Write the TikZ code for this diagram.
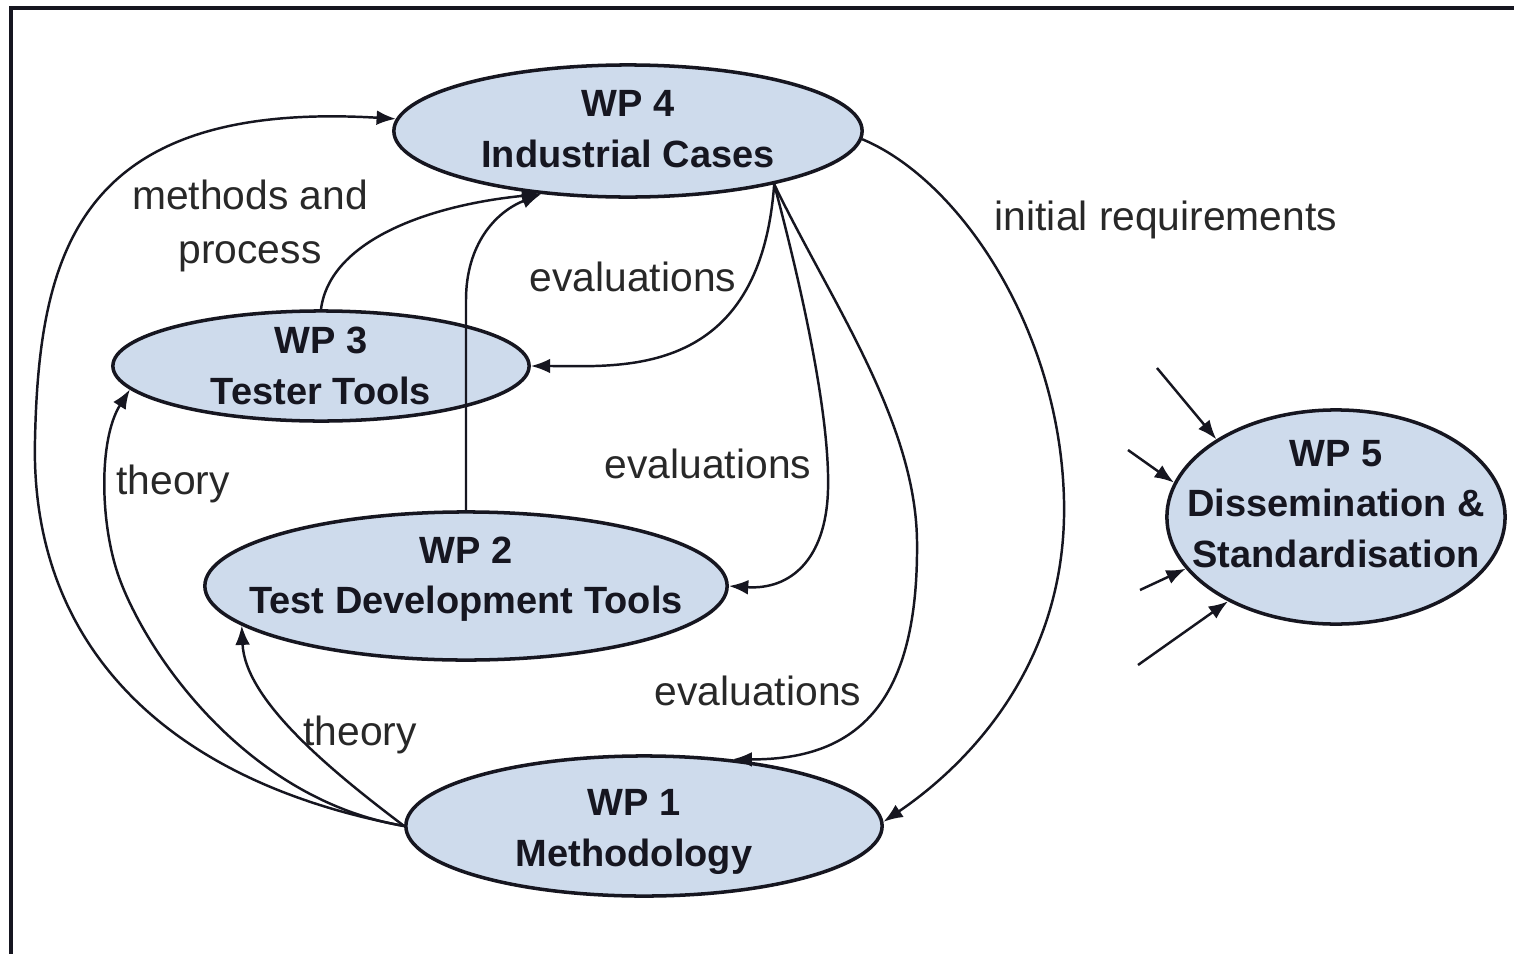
\documentclass[tikz,border=0pt]{standalone}
\usepackage{fontspec}
\setmainfont{Liberation Sans}
\usetikzlibrary{shapes.geometric,arrows.meta}
\definecolor{wpfill}{RGB}{206,219,236}
\definecolor{ink}{RGB}{22,22,32}
\definecolor{labink}{RGB}{40,40,40}
\begin{document}
\begin{tikzpicture}[x=0.01cm,y=-0.01cm,
  wp/.style={ellipse,draw=ink,line width=1pt,fill=wpfill,inner sep=0pt},
  wptext/.style={font=\fontsize{10.8}{14.4}\selectfont\bfseries,align=center,text=ink,inner sep=0pt},
  lab/.style={font=\fontsize{11.6}{15.5}\selectfont,align=center,text=labink,inner sep=0pt},
  conn/.style={draw=ink,line width=0.7pt,-{Latex[length=5.5pt,width=4.2pt]}},
  frame/.style={draw=ink,line width=1.1pt}
]
\useasboundingbox (0,0) rectangle (1514,954);
\fill[white] (0,0) rectangle (1514,954);
\coordinate (fb) at (11,954);
\coordinate (ftl) at (11,8);
\coordinate (ftr) at (1514,8);
\draw[frame] (fb) -- (ftl) -- (ftr);

% work packages
\node[wp,minimum width=4.68cm,minimum height=1.32cm,
  label={[wptext,yshift=0.02cm]center:{WP 4\\Industrial Cases}}] (wp4) at (628,131) {};
\node[wp,minimum width=4.16cm,minimum height=1.10cm,
  label={[wptext]center:{WP 3\\Tester Tools}}] (wp3) at (321,366) {};
\node[wp,minimum width=5.22cm,minimum height=1.48cm,
  label={[wptext,yshift=0.07cm]center:{WP 2\\Test Development Tools}}] (wp2) at (466,586) {};
\node[wp,minimum width=4.76cm,minimum height=1.40cm,
  label={[wptext,yshift=-0.06cm,xshift=-0.10cm]center:{WP 1\\Methodology}}] (wp1) at (644,826) {};
\node[wp,minimum width=3.38cm,minimum height=2.14cm,
  label={[wptext,yshift=0.13cm]center:{WP 5\\Dissemination \&\\Standardisation}}] (wp5) at (1336,517) {};

% labels
\node[lab] (lmeth) at (250,226) {methods and\\process};
\node[lab] (lev1) at (633,277) {evaluations};
\node[lab] (lev2) at (708,464) {evaluations};
\node[lab] (lev3) at (758,691) {evaluations};
\node[lab] (lth1) at (173,484) {theory};
\node[lab] (lth2) at (360,735) {theory};
\node[lab] (lreq) at (1166,220) {initial requirements};

% connectors from WP1
\draw[conn] (wp1.west) .. controls (160,780) and (30,640) .. (35,440)
  .. controls (39,250) and (80,100) .. (wp4.177);
\draw[conn] (wp1.west) .. controls (250,800) and (150,660) .. (120,580)
  .. controls (100,527) and (98,440) .. (wp3.187);
\draw[conn] (wp1.west) .. controls (330,770) and (245,700) .. (wp2.190);

% into WP4
\draw[conn] (wp3.north) .. controls (330,240) and (430,205) .. (wp4.216);
\draw[conn] (wp2.north) -- (466,300) .. controls (466,245) and (495,212) .. (wp4.216);

% evaluations from WP4
\draw[conn] (wp4.340) .. controls (760,380) and (620,366) .. (wp3.east);
\draw[conn] (wp4.340) .. controls (805,300) and (830,420) .. (828,490)
  .. controls (826,560) and (790,590) .. (wp2.east);
\draw[conn] (wp4.340) .. controls (830,300) and (915,420) .. (917,540)
  .. controls (919,700) and (860,760) .. (wp1.37);

% initial requirements
\draw[conn] (wp4.358) .. controls (960,180) and (1060,330) .. (1064,500)
  .. controls (1068,670) and (960,770) .. (wp1.1);

% inputs to WP5
\coordinate (in1) at (1157,368);
\coordinate (in2) at (1128,450);
\coordinate (in3) at (1140,590);
\coordinate (in4) at (1138,665);
\draw[conn] (in1) -- (wp5.147);
\draw[conn] (in2) -- (wp5.168);
\draw[conn] (in3) -- (wp5.199);
\draw[conn] (in4) -- (wp5.218);
\end{tikzpicture}
\end{document}
